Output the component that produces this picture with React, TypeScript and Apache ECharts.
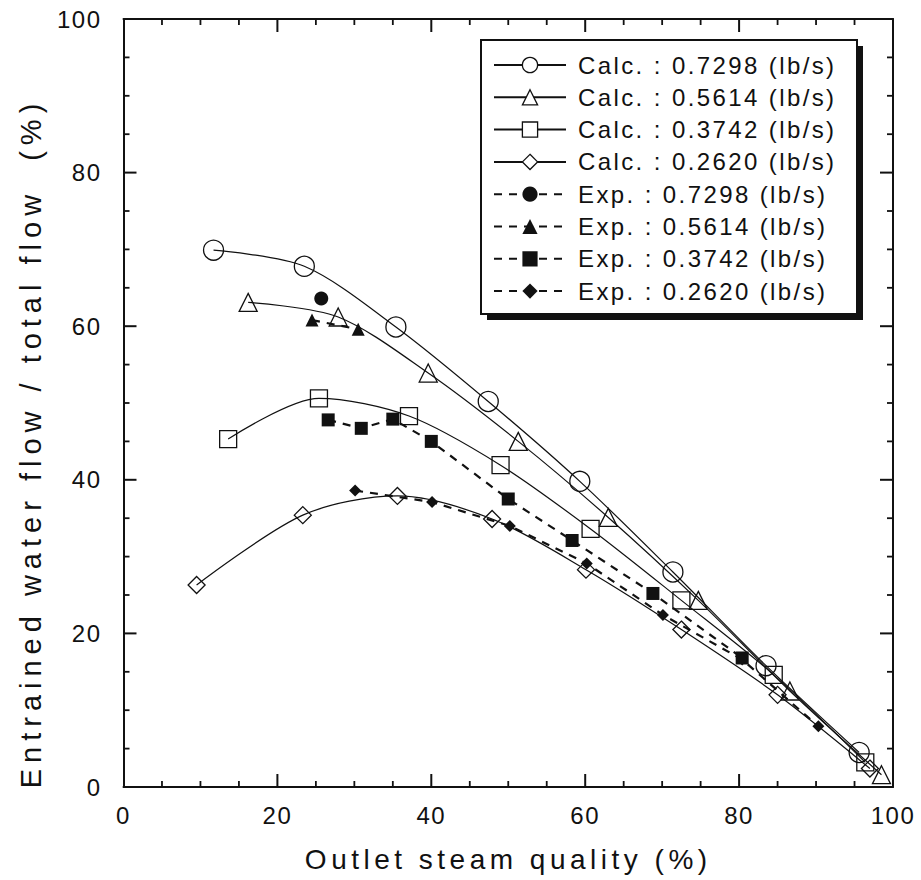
import React, { useEffect, useRef } from 'react';
import * as echarts from 'echarts';

// ---- data (outlet steam quality %, entrained water flow / total flow %) ----
const calc7298: number[][] = [[11.7, 69.9], [23.5, 67.8], [35.4, 59.9], [47.4, 50.2], [59.3, 39.8], [71.4, 28.0], [83.5, 15.8], [95.6, 4.5]];
const calc5614: number[][] = [[16.2, 63.1], [27.9, 61.2], [39.6, 53.9], [51.3, 45.0], [63.0, 35.1], [74.7, 24.3], [86.6, 12.5], [98.5, 1.6]];
const calc3742: number[][] = [[13.6, 45.3], [25.4, 50.6], [37.1, 48.3], [49.0, 41.9], [60.7, 33.6], [72.5, 24.3], [84.5, 14.6], [96.4, 3.2]];
const calc2620: number[][] = [[9.5, 26.3], [23.3, 35.4], [35.6, 37.9], [47.9, 34.9], [60.1, 28.3], [72.5, 20.5], [85.0, 12.0], [97.0, 2.4]];
const exp7298: number[][] = [[25.7, 63.6]];
const exp5614: number[][] = [[24.5, 60.8], [30.5, 59.6]];
const exp3742: number[][] = [[26.6, 47.8], [30.9, 46.7], [35.0, 47.9], [40.0, 45.0], [50.0, 37.5], [58.3, 32.1], [68.8, 25.2], [80.4, 16.8]];
const exp2620: number[][] = [[30.1, 38.6], [40.1, 37.1], [50.2, 34.0], [60.2, 29.1], [70.1, 22.4], [80.4, 16.6], [90.3, 7.9]];

// axis range and ticks (major every 20, minor every 5)
const AXIS_MIN = 0;
const AXIS_MAX = 100;
const MAJOR_STEP = 20;
const MINOR_STEP = 5;

const seriesNames = [
  'Calc. : 0.7298 (lb/s)',
  'Calc. : 0.5614 (lb/s)',
  'Calc. : 0.3742 (lb/s)',
  'Calc. : 0.2620 (lb/s)',
  'Exp. : 0.7298 (lb/s)',
  'Exp. : 0.5614 (lb/s)',
  'Exp. : 0.3742 (lb/s)',
  'Exp. : 0.2620 (lb/s)',
];
const xTitle = 'Outlet steam quality (%)';
const yTitle = 'Entrained water flow / total flow  (%)';

const FONT = 'Liberation Sans, Arial, Helvetica, sans-serif';
const INK = '#111';

function calcSeries(name: string, data: number[][], symbol: string, size: number) {
  return {
    name,
    type: 'line',
    data,
    smooth: 0.3,
    symbol,
    symbolSize: size,
    showSymbol: true,
    lineStyle: { color: INK, width: 1.2, type: 'solid' },
    itemStyle: { color: 'rgba(255,255,255,0)', borderColor: INK, borderWidth: 1.3 },
    z: 3,
  };
}
function expSeries(name: string, data: number[][], symbol: string, size: number) {
  return {
    name,
    type: 'line',
    data,
    smooth: false,
    symbol,
    symbolSize: size,
    showSymbol: true,
    lineStyle: { color: INK, width: 2.2, type: [8, 7] },
    itemStyle: { color: INK, borderColor: INK, borderWidth: 0 },
    z: 4,
  };
}

function axisBase(pos: string, withLabel: boolean) {
  return {
    type: 'value',
    min: AXIS_MIN,
    max: AXIS_MAX,
    interval: MAJOR_STEP,
    position: pos,
    axisLine: { show: true, onZero: false, lineStyle: { color: INK, width: 2 } },
    axisTick: { show: false },
    minorTick: { show: false },
    splitLine: { show: false },
    minorSplitLine: { show: false },
    axisLabel: withLabel
      ? { show: true, fontSize: 24, color: INK, margin: pos === 'left' ? 22 : 16, fontFamily: FONT }
      : { show: false },
  };
}

export default function App() {
  const ref = useRef<HTMLDivElement>(null);
  useEffect(() => {
    document.body.style.margin = '0';
    const el = ref.current!;
    const chart = echarts.init(el, null, { renderer: 'svg' });

    const applySpacing = () => {
      el.querySelectorAll('text').forEach((t) => {
        const s = t.textContent || '';
        let ls = '1.5px';
        if (s === xTitle) ls = '4.5px';
        else if (s === yTitle) ls = '6px';
        else if (s.startsWith('Calc') || s.startsWith('Exp')) ls = '2.4px';
        (t as SVGTextElement).style.letterSpacing = ls;
      });
    };
    chart.on('finished', applySpacing);

    const legendData = seriesNames.map((n, i) => ({
      name: n,
      itemStyle: i < 4 ? { color: '#fff', borderColor: INK, borderWidth: 1.3 } : undefined,
    }));

    chart.setOption({
      animation: false,
      backgroundColor: '#fff',
      textStyle: { fontFamily: FONT, color: INK },
      grid: { left: 123.5, right: 28, top: 19, bottom: 93, containLabel: false },
      xAxis: [
        {
          ...axisBase('bottom', true),
          name: xTitle,
          nameLocation: 'middle',
          nameGap: 58,
          nameTextStyle: { fontSize: 28, color: INK, fontFamily: FONT },
        },
        axisBase('top', false),
      ],
      yAxis: [
        {
          ...axisBase('left', true),
          name: yTitle,
          nameLocation: 'middle',
          nameGap: 78,
          nameTextStyle: { fontSize: 29, color: INK, fontFamily: FONT, padding: [0, 80, 0, 0] },
        },
        axisBase('right', false),
      ],
      legend: {
        orient: 'vertical',
        left: 493,
        top: 53,
        padding: 0,
        itemWidth: 72,
        itemHeight: 19,
        itemGap: 8.3,
        selectedMode: false,
        z: 6,
        textStyle: { fontFamily: FONT, fontSize: 24, lineHeight: 24, color: INK, padding: [0, 0, 0, 7] },
        data: legendData,
      },
      graphic: [
        {
          id: 'legendShadow',
          type: 'rect',
          z: 4,
          shape: { x: 487, y: 46, width: 376, height: 274 },
          style: { fill: INK },
        },
        {
          id: 'legendBox',
          type: 'rect',
          z: 5,
          shape: { x: 481, y: 40, width: 376, height: 274 },
          style: { fill: '#fff', stroke: INK, lineWidth: 2 },
        },
      ],
      series: [
        calcSeries(seriesNames[0], calc7298, 'circle', 20),
        calcSeries(seriesNames[1], calc5614, 'triangle', 18),
        calcSeries(seriesNames[2], calc3742, 'rect', 17),
        calcSeries(seriesNames[3], calc2620, 'diamond', 17),
        expSeries(seriesNames[4], exp7298, 'circle', 14),
        expSeries(seriesNames[5], exp5614, 'triangle', 13),
        expSeries(seriesNames[6], exp3742, 'rect', 13),
        expSeries(seriesNames[7], exp2620, 'diamond', 12),
      ],
    });

    // inward ticks on all four sides, positioned through the axes' own scales
    const lo = chart.convertToPixel({ gridIndex: 0 }, [AXIS_MIN, AXIS_MIN]) as number[];
    const hi = chart.convertToPixel({ gridIndex: 0 }, [AXIS_MAX, AXIS_MAX]) as number[];
    const left = lo[0], bottom = lo[1], right = hi[0], top = hi[1];
    const tickEls: any[] = [];
    for (let v = AXIS_MIN + MINOR_STEP; v < AXIS_MAX; v += MINOR_STEP) {
      const major = v % MAJOR_STEP === 0;
      const len = major ? 13 : 6;
      const p = chart.convertToPixel({ gridIndex: 0 }, [v, v]) as number[];
      const st = { stroke: INK, lineWidth: major ? 2 : 1.8 };
      tickEls.push(
        { id: `tb${v}`, type: 'line', z: 2, shape: { x1: p[0], y1: bottom, x2: p[0], y2: bottom - len }, style: st, silent: true },
        { id: `tt${v}`, type: 'line', z: 2, shape: { x1: p[0], y1: top, x2: p[0], y2: top + len }, style: st, silent: true },
        { id: `tl${v}`, type: 'line', z: 2, shape: { x1: left, y1: p[1], x2: left + len, y2: p[1] }, style: st, silent: true },
        { id: `tr${v}`, type: 'line', z: 2, shape: { x1: right, y1: p[1], x2: right - len, y2: p[1] }, style: st, silent: true },
      );
    }
    chart.setOption({ graphic: tickEls });
    applySpacing();

    return () => {
      chart.dispose();
    };
  }, []);
  return <div ref={ref} style={{ width: 921, height: 880 }} />;
}
